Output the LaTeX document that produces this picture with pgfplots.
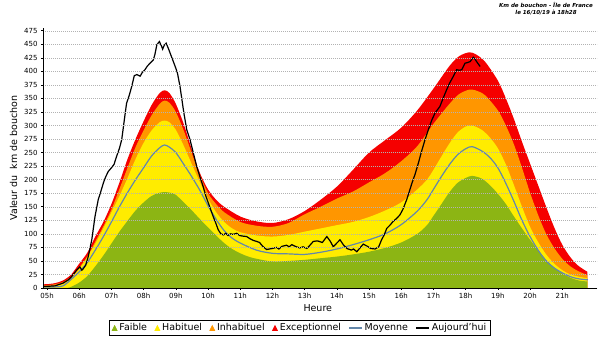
\documentclass[border=0pt]{standalone}
\usepackage{fontspec}
\setmainfont{DejaVu Sans}
\usepackage{pgfplots}
\usepackage{pgfplotstable}
\pgfplotsset{compat=1.18}
\definecolor{cgreen}{RGB}{140,181,20}
\definecolor{cyellow}{RGB}{255,236,0}
\definecolor{corange}{RGB}{255,150,0}
\definecolor{cred}{RGB}{245,0,0}
\definecolor{cmoy}{RGB}{100,135,170}

\pgfplotstableread{
x y
4.875 7
5.0 7
5.25 9
5.5 14
5.75 25
6.0 45
6.25 65
6.5 95
6.75 122
7.0 155
7.25 195
7.5 238
7.75 275
8.0 308
8.25 338
8.5 360
8.65 365
8.8 360
9.0 340
9.25 302
9.5 255
9.75 212
10.0 182
10.25 163
10.5 150
11.0 132
11.5 123
12.0 120
12.5 127
13.0 142
13.5 163
14.0 187
14.5 218
15.0 250
15.5 273
16.0 296
16.5 328
17.0 368
17.5 410
17.8 428
18.1 435
18.3 432
18.6 418
19.0 383
19.25 350
19.5 312
19.75 270
20.0 230
20.25 190
20.5 150
20.75 112
21.0 80
21.25 57
21.5 41
21.78 30
}\tred

\pgfplotstableread{
x y
4.875 5
5.0 5
5.25 7
5.5 11
5.75 21
6.0 38
6.25 58
6.5 86
6.75 114
7.0 145
7.25 183
7.5 222
7.75 260
8.0 291
8.25 319
8.5 340
8.65 346
8.8 342
9.0 325
9.25 290
9.5 248
9.75 208
10.0 175
10.25 155
10.5 140
11.0 122
11.5 115
12.0 113
12.5 120
13.0 136
13.5 150
14.0 165
14.5 178
15.0 195
15.5 212
16.0 234
16.5 262
17.0 303
17.5 340
17.8 358
18.1 366
18.3 365
18.6 356
19.0 328
19.25 300
19.5 265
19.75 222
20.0 176
20.25 135
20.5 100
20.75 74
21.0 54
21.25 40
21.5 31
21.78 24
}\torange

\pgfplotstableread{
x y
4.875 3
5.0 3
5.25 4
5.5 8
5.75 18
6.0 35
6.25 57
6.5 82
6.75 110
7.0 140
7.25 170
7.5 203
7.75 238
8.0 268
8.25 291
8.5 306
8.65 309
8.8 306
9.0 292
9.25 262
9.5 228
9.75 195
10.0 165
10.25 140
10.5 122
10.75 110
11.0 103
11.5 97
12.0 95
12.5 98
13.0 104
13.5 110
14.0 116
14.5 122
15.0 131
15.5 143
16.0 158
16.5 182
16.8 200
17.0 218
17.25 243
17.5 267
17.75 287
18.0 298
18.2 300
18.5 292
18.75 278
19.0 258
19.25 228
19.5 190
19.75 150
20.0 113
20.25 85
20.5 62
20.75 45
21.0 33
21.25 25
21.5 21
21.78 18
}\tyellow

\pgfplotstableread{
x y
4.875 0
5.5 0
5.7 1
6.0 10
6.25 22
6.5 40
6.75 60
7.0 82
7.25 104
7.5 124
7.75 143
8.0 158
8.25 170
8.5 176
8.7 177
8.9 175
9.0 172
9.25 158
9.5 143
9.75 127
10.0 112
10.25 97
10.5 83
10.75 72
11.0 64
11.25 58
11.5 54
12.0 49
12.5 50
13.0 52
13.5 55
14.0 58
14.5 62
15.0 67
15.5 74
16.0 84
16.5 100
16.8 116
17.0 133
17.25 155
17.5 177
17.75 194
18.0 203
18.2 207
18.5 202
18.75 190
19.0 174
19.25 155
19.5 132
19.75 110
20.0 89
20.25 70
20.5 52
20.75 38
21.0 27
21.25 19
21.5 14
21.78 12
}\tgreen

\pgfplotstableread{
x y
4.875 2
5.25 2
5.5 4
5.75 16
6.0 30
6.25 47
6.5 70
6.75 95
7.0 122
7.25 150
7.5 176
7.75 200
8.0 222
8.25 244
8.5 259
8.65 264
8.8 260
9.0 250
9.25 228
9.5 205
9.75 180
10.0 152
10.25 127
10.5 106
10.75 92
11.0 83
11.5 70
12.0 64
12.5 63
13.0 62
13.5 66
14.0 72
14.5 80
15.0 89
15.5 100
16.0 117
16.5 142
16.8 163
17.0 182
17.25 206
17.5 228
17.75 246
18.0 257
18.2 261
18.5 253
18.75 241
19.0 222
19.25 193
19.5 160
19.75 125
20.0 95
20.25 70
20.5 50
20.75 37
21.0 28
21.25 21
21.5 17
21.8 15
}\tmoy

\pgfplotstableread{
x y
4.875 3
5.0 3
5.25 4
5.5 9
5.66 15
5.75 20
5.92 33
6.02 39
6.08 33
6.13 36
6.2 42
6.28 58
6.39 89
6.49 132
6.59 163
6.67 178
6.75 194
6.82 205
6.9 215
7.0 222
7.08 228
7.16 243
7.25 258
7.32 274
7.4 310
7.47 341
7.55 355
7.63 372
7.71 392
7.79 394
7.89 391
7.96 398
8.04 403
8.12 410
8.2 415
8.3 421
8.35 431
8.41 449
8.49 455
8.56 446
8.59 441
8.64 448
8.7 452
8.77 442
8.84 431
8.91 420
8.98 409
9.05 397
9.13 372
9.25 323
9.34 292
9.44 274
9.55 248
9.65 224
9.75 205
9.85 187
9.93 170
10.01 157
10.08 145
10.16 132
10.24 120
10.32 107
10.4 100
10.48 98
10.55 101
10.62 97
10.7 100
10.78 99
10.89 101
10.98 97
11.05 96
11.2 95
11.3 91
11.4 88
11.51 86
11.6 84
11.7 77
11.82 71
11.9 72
12.0 73
12.13 75
12.2 72
12.3 77
12.44 79
12.52 76
12.6 80
12.67 78
12.75 76
12.85 74
12.95 76
13.07 73
13.15 78
13.27 86
13.4 87
13.55 84
13.69 95
13.8 86
13.89 76
14.0 83
14.1 89
14.2 80
14.31 73
14.45 70
14.52 72
14.62 67
14.72 74
14.82 81
14.95 77
15.05 73
15.19 72
15.3 76
15.39 89
15.47 98
15.55 110
15.65 116
15.75 123
15.85 128
15.96 135
16.05 145
16.17 163
16.25 178
16.33 193
16.43 210
16.53 230
16.63 252
16.74 274
16.84 292
16.95 310
17.05 323
17.2 335
17.3 350
17.41 366
17.5 378
17.62 391
17.72 403
17.8 402
17.88 403
17.98 415
18.05 416
18.14 418
18.24 426
18.3 422
18.34 418
18.45 409
}\tauj

\begin{document}
\begin{tikzpicture}
\path[use as bounding box] (0pt,0pt) rectangle (600pt,337pt);
\begin{axis}[
  at={(43pt,49pt)}, anchor=south west,
  scale only axis,
  width=554pt, height=260pt,
  xmin=4.875, xmax=22.08,
  ymin=0, ymax=480,
  axis x line*=bottom, axis y line*=left,
  axis line style={black, line width=0.9pt},
  axis on top,
  xtick={5,6,...,21},
  xticklabels={05h,06h,07h,08h,09h,10h,11h,12h,13h,14h,15h,16h,17h,18h,19h,20h,21h},
  ytick={0,25,...,475},
  tick align=outside, major tick length=2pt,
  tick style={black, line width=0.5pt},
  ymajorgrids,
  grid style={gray!60, line width=0.4pt, dash pattern=on 0.8pt off 1.2pt},
  tick label style={font=\fontsize{7}{8}\selectfont},
  /pgf/number format/assume math mode=true,
  xlabel={Heure},
  ylabel={Valeur du\ \ km de bouchon},
  label style={font=\fontsize{9.5}{11}\selectfont},
  xlabel style={at={(axis description cs:0.496,-0.077)}, anchor=center},
  ylabel style={at={(axis description cs:-0.0532,0.5)}, anchor=center},
  legend columns=6,
  legend style={at={(axis description cs:0.464,-0.154)}, anchor=center,
    draw=black, line width=0.6pt, fill=white,
    font=\fontsize{9.5}{11}\selectfont,
    inner xsep=2.5pt, inner ysep=1pt,
    /tikz/every even column/.append style={column sep=5.5pt}},
]
\addplot[fill=cred, draw=none, smooth, forget plot] table[x=x,y=y] {\tred} \closedcycle;
\addplot[fill=corange, draw=none, smooth, forget plot] table[x=x,y=y] {\torange} \closedcycle;
\addplot[fill=cyellow, draw=none, smooth, forget plot] table[x=x,y=y] {\tyellow} \closedcycle;
\addplot[fill=cgreen, draw=none, smooth, forget plot] table[x=x,y=y] {\tgreen} \closedcycle;
\addplot[cmoy, line width=1.2pt, smooth, forget plot] table[x=x,y=y] {\tmoy};
\addplot[black, line width=1.2pt, forget plot] table[x=x,y=y] {\tauj};

\addlegendimage{legend image code/.code={\fill[cgreen] (0pt,-2.5pt) -- (5pt,-2.5pt) -- (2.5pt,2.5pt) -- cycle;}}
\addlegendentry{Faible}
\addlegendimage{legend image code/.code={\fill[cyellow] (0pt,-2.5pt) -- (5pt,-2.5pt) -- (2.5pt,2.5pt) -- cycle;}}
\addlegendentry{Habituel}
\addlegendimage{legend image code/.code={\fill[corange] (0pt,-2.5pt) -- (5pt,-2.5pt) -- (2.5pt,2.5pt) -- cycle;}}
\addlegendentry{Inhabituel}
\addlegendimage{legend image code/.code={\fill[cred] (0pt,-2.5pt) -- (5pt,-2.5pt) -- (2.5pt,2.5pt) -- cycle;}}
\addlegendentry{Exceptionnel}
\addlegendimage{legend image code/.code={\draw[cmoy, line width=1.2pt] (0pt,0pt) -- (13pt,0pt);}}
\addlegendentry{Moyenne}
\addlegendimage{legend image code/.code={\draw[black, line width=1.2pt] (0pt,0pt) -- (13pt,0pt);}}
\addlegendentry{Aujourd'hui}
\end{axis}
\node[align=center, font=\fontsize{5.5}{7}\selectfont\bfseries\itshape, inner sep=0pt] at (546pt,328pt) {Km de bouchon - Île de France\\le 16/10/19 à 18h28};
\end{tikzpicture}
\end{document}
